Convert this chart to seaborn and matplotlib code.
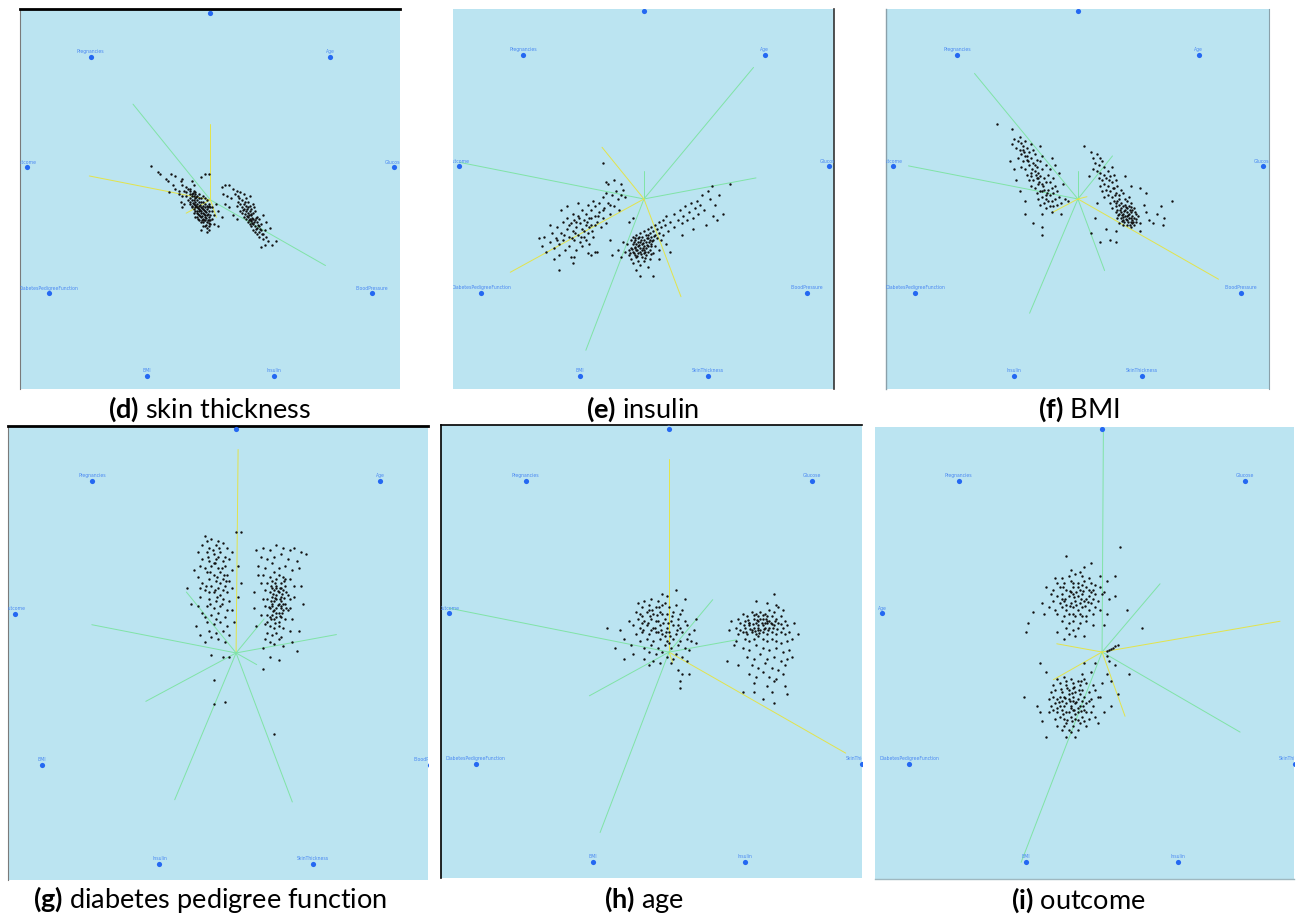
import matplotlib
matplotlib.use("Agg")
import matplotlib.pyplot as plt
import matplotlib.transforms as mtransforms
import numpy as np
import pandas as pd
import seaborn as sns

# anchor order, clockwise starting from the top (top anchor = variable studied)
anchors_d = ["SkinThickness", "Age", "Glucose", "BloodPressure", "Insulin", "BMI",
             "DiabetesPedigreeFunction", "Outcome", "Pregnancies"]
anchors_e = ["Insulin", "Age", "Glucose", "BloodPressure", "SkinThickness", "BMI",
             "DiabetesPedigreeFunction", "Outcome", "Pregnancies"]
anchors_f = ["BMI", "Age", "Glucose", "BloodPressure", "SkinThickness", "Insulin",
             "DiabetesPedigreeFunction", "Outcome", "Pregnancies"]
anchors_g = ["DiabetesPedigreeFunction", "Age", "Glucose", "BloodPressure", "SkinThickness",
             "Insulin", "BMI", "Outcome", "Pregnancies"]
anchors_h = ["Age", "Glucose", "BloodPressure", "SkinThickness", "Insulin", "BMI",
             "DiabetesPedigreeFunction", "Outcome", "Pregnancies"]
anchors_i = ["Outcome", "Glucose", "BloodPressure", "SkinThickness", "Insulin", "BMI",
             "DiabetesPedigreeFunction", "Age", "Pregnancies"]

# projected records (anchor circle radius = 100)
points_d = [
    (-32, 18), (-28, 15), (-27, 14), (-24, 11), (-23, 10), (-21, 14), (-19, 13), (-16, 10), (-15, 11),
    (-20, 8), (-19, 6), (-17, 5), (-15, 8), (-13, 7), (-11, 6), (-10, 10), (-5, 12), (-3, 14), (-1, 14),
    (-9, 8), (-22, 4), (-17, 3), (-15, 2),
    (-14, 5), (-13, 4), (-12, 6), (-11, 5), (-11, 3), (-10, 3), (-9, 5), (-8, 4), (-13, 2), (-11, 1),
    (-10, 2), (-9, 2), (-8, 3), (-7, 2), (-6, 3), (-12, 0), (-11, -1), (-10, 0), (-9, 0), (-8, 1),
    (-7, 0), (-6, 1), (-5, 1), (-4, 2), (-3, 1), (-11, -2), (-10, -3), (-9, -2), (-8, -1), (-7, -2),
    (-6, -1), (-5, -1), (-4, -1), (-3, -2), (-2, 0), (-10, -4), (-9, -5), (-8, -4), (-7, -4), (-6, -3),
    (-5, -4), (-4, -3), (-3, -4), (-2, -3), (-1, -2), (-9, -7), (-8, -6), (-7, -7), (-6, -6), (-5, -6),
    (-4, -7), (-3, -6), (-2, -5), (-1, -6), (0, -4), (-8, -9), (-7, -9), (-6, -8), (-5, -9), (-4, -10),
    (-3, -9), (-2, -8), (-1, -9), (0, -8), (1, -6), (-6, -11), (-5, -12), (-4, -12), (-3, -11), (-2, -12),
    (-1, -11), (0, -11), (1, -10), (-4, -14), (-3, -14), (-2, -15), (-1, -14), (0, -13), (-1, -16),
    (2, -13), (-14, -2), (-15, -4), (-16, -1), (1, -4), (2, -8), (3, -2), (4, -6), (-2, -17), (-5, -16),
    (4, -14), (6, -9),
    (-6.5, -4.5), (-5.5, -5.5), (-4.5, -4.5), (-3.5, -5.5), (-6.5, -7.5), (-5.5, -8.5), (-4.5, -8.5),
    (-3.5, -7.5), (-2.5, -6.5), (-2.5, -9.5), (-1.5, -10.5), (-3.5, -10.5), (-4.5, -11), (-7.5, -3),
    (-8.5, -2.5), (-9.5, -1.5), (-5.5, -2.5), (-1.5, -7.5), (-0.5, -12.5), (-2.5, -13.5), (-7.5, 1.5),
    (-9.5, 3.5), (-6.5, -10), (-0.5, -3.5), (-1.5, -4), (-4, -5), (-6, -5), (-7, -6), (-3, -8), (-5, -7),
    (6, 7), (8, 8), (10, 8), (12, 6), (14, 5), (7, 3), (9, 2), (11, 1), (13, 3), (15, 2), (16, 4), (18, 3),
    (17, 0), (19, 1), (20, -1), (21, 2), (15, -1), (14, -3), (16, -2), (17, -4), (18, -2), (19, -3),
    (20, -4), (21, -3), (22, -5), (23, -2), (16, -6), (17, -7), (18, -5), (19, -6), (20, -7), (21, -6),
    (22, -8), (23, -7), (24, -6), (25, -9), (18, -9), (19, -10), (20, -9), (21, -10), (22, -11), (23, -10),
    (24, -11), (25, -12), (26, -10), (20, -12), (21, -13), (22, -14), (23, -13), (24, -14), (25, -15),
    (26, -14), (27, -13), (23, -16), (24, -17), (25, -18), (26, -17), (27, -16), (28, -18), (29, -16),
    (26, -20), (28, -21), (30, -20), (31, -22), (29, -24), (33, -24), (8, -2), (10, -4), (12, -8),
    (30, -12), (32, -15), (28, -8), (14, -10), (27, -25), (35, -22),
    (19.5, -5), (20.5, -8), (21.5, -7.5), (22.5, -9.5), (23.5, -12), (24.5, -9.5), (22.5, -12.5),
    (21.5, -11.5), (20.5, -10.5), (18.5, -7.5), (17.5, -5.5), (19.5, -8.5), (25.5, -13.5), (26.5, -15.5),
    (27.5, -18), (23.5, -4), (24.5, -15.5), (18.5, -1), (15.5, 1),
]
points_e = [
    (-56, -21), (-54, -25), (-52, -28), (-53, -20), (-50, -23), (-49, -18), (-48, -26), (-47, -21),
    (-46, -15), (-45, -24), (-45, -30), (-44, -18), (-43, -12), (-43, -22), (-42, -27), (-41, -16),
    (-41, -10), (-40, -20), (-40, -25), (-39, -13), (-39, -31), (-38, -17), (-38, -8), (-37, -22),
    (-37, -11), (-36, -15), (-36, -27), (-35, -9), (-35, -19), (-34, -13), (-34, -23), (-33, -6),
    (-33, -16), (-32, -11), (-32, -20), (-31, -8), (-31, -14), (-30, -3), (-30, -18), (-29, -10),
    (-29, -24), (-28, -6), (-28, -14), (-27, -1), (-27, -20), (-26, -9), (-26, -4), (-25, -12),
    (-25, -28), (-24, -2), (-24, -7), (-23, -15), (-22, 1), (-22, -10), (-21, -5), (-20, 3), (-20, -13),
    (-19, -2), (-18, -8), (-17, 2), (-17, -30), (-16, -4), (-15, 4), (-14, 0), (-13, -6), (-12, 2),
    (-11, 5), (-10, 1), (-22, 19), (-20, 9), (-19, 8), (-45, -38), (-37, -31), (-26, -28), (-18, -22),
    (-14, -27), (-50, -14), (-44, -6), (-41, -4), (-35, -2), (-30, -29), (-33, -25), (-8, -12), (-6, -10),
    (-28, -30), (-38, -34), (-48, -32), (-16, 10), (-12, 8),
    (-36.5, -18), (-33.5, -20), (-30.5, -12), (-27.5, -17), (-24.5, -9), (-38.5, -21), (-42.5, -19),
    (-34.5, -10), (-29, -15), (-32, -17), (-40, -14), (-26, -14), (-22, -6), (-18, -3), (-36, -12),
    (-46, -22), (-28, -10), (-31, -22),
    (-9, -24), (-8, -27), (-8, -30), (-7, -22), (-7, -26), (-7, -32), (-6, -20), (-6, -24), (-6, -28),
    (-6, -34), (-5, -22), (-5, -26), (-5, -30), (-4, -19), (-4, -24), (-4, -27), (-4, -31), (-3, -21),
    (-3, -25), (-3, -29), (-3, -33), (-2, -18), (-2, -23), (-2, -26), (-2, -28), (-2, -35), (-1, -20),
    (-1, -24), (-1, -27), (-1, -31), (0, -17), (0, -22), (0, -25), (0, -29), (0, -33), (1, -19), (1, -23),
    (1, -26), (1, -30), (2, -16), (2, -21), (2, -25), (2, -28), (2, -36), (3, -18), (3, -22), (3, -27),
    (3, -32), (4, -15), (4, -20), (4, -24), (5, -17), (5, -22), (5, -29), (6, -14), (6, -19), (6, -25),
    (7, -16), (7, -21), (8, -12), (8, -18), (8, -27), (9, -15), (9, -22), (10, -11), (10, -19), (11, -14),
    (12, -24), (12, -9), (13, -17), (-10, -28), (-11, -23), (-12, -31), (-2, -41), (5, -41), (-4, -38),
    (8, -32), (14, -28),
    (-5.5, -23), (-4.5, -25.5), (-3.5, -27), (-2.5, -24.5), (-1.5, -22), (-0.5, -26), (0.5, -28),
    (1.5, -24.5), (2.5, -23), (3.5, -25), (-6.5, -26.5), (-5.5, -29), (-3.5, -30.5), (-1.5, -29.5),
    (0.5, -31.5), (-4.5, -21), (-2.5, -20.5), (1.5, -21), (4.5, -22.5), (-7.5, -28.5), (3.5, -29.5),
    (-0.5, -23.5), (5.5, -19.5), (-3, -23), (0, -27), (2, -19),
    (14, -12), (16, -8), (16, -15), (18, -11), (19, -6), (20, -13), (21, -9), (22, -4), (23, -11),
    (24, -7), (25, -2), (26, -10), (27, -5), (28, -1), (29, -8), (30, -3), (31, 2), (32, -6), (34, 4),
    (36, 7), (35, 0), (38, -3), (39, -11), (37, -9), (26, -16), (20, -19), (33, -14), (42, -8), (46, 8),
    (40, 2),
]
points_f = [
    (-43, 40), (-35, 37), (-34, 32), (-35, 29), (-32, 31), (-31, 33), (-30, 30), (-33, 27), (-31, 26),
    (-29, 28), (-28, 31), (-27, 27), (-30, 24), (-28, 23), (-26, 25), (-25, 29), (-24, 26), (-32, 22),
    (-29, 20), (-27, 21), (-25, 22), (-23, 24), (-22, 21), (-30, 17), (-28, 16), (-26, 18), (-24, 19),
    (-22, 17), (-20, 20), (-19, 23), (-27, 13), (-25, 14), (-23, 15), (-21, 14), (-19, 16), (-17, 18),
    (-26, 10), (-24, 10), (-22, 11), (-20, 12), (-18, 11), (-16, 13), (-15, 16), (-25, 7), (-23, 6),
    (-21, 8), (-19, 8), (-17, 9), (-15, 9), (-13, 11), (-22, 3), (-20, 4), (-18, 5), (-16, 5), (-14, 6),
    (-12, 7), (-21, 0), (-19, 1), (-17, 2), (-15, 2), (-13, 3), (-11, 4), (-20, -3), (-18, -2), (-16, -1),
    (-14, -1), (-12, 0), (-10, 1), (-17, -5), (-15, -4), (-13, -4), (-11, -3), (-9, -2), (-14, -7),
    (-9, -8), (-19, -8), (-24, -13), (-19, -19), (-19, -15), (-28, -8), (-33, 10), (-34, 16), (-31, 4),
    (-36, 20), (-28, -1), (-12, 18), (-10, 14), (-8, 8), (-14, 22), (-20, 28), (-7, 0), (-5, -1),
    (-26.5, 20), (-24.5, 16), (-22.5, 13), (-20.5, 9), (-18.5, 7), (-16.5, 3), (-28.5, 25), (-23, 18),
    (-21, 11), (-19, 4), (-17, 0), (-25, 12), (-29, 26), (-27, 23),
    (7, 25), (8, 22), (10, 24), (12, 22), (9, 19), (11, 18), (13, 20), (14, 17), (8, 16), (10, 15), (12, 14),
    (14, 13), (16, 15), (18, 17), (6, 12), (11, 11), (13, 10), (15, 11), (17, 12), (19, 13), (12, 7),
    (14, 8), (16, 7), (18, 9), (20, 10), (13, 4), (15, 5), (17, 4), (19, 6), (21, 7), (23, 5), (14, 1),
    (16, 2), (18, 1), (20, 3), (22, 2), (24, 3), (17, -2), (19, -1), (21, -1), (22, 0), (23, -2), (25, 0),
    (26, -1), (27, 1), (18, -5), (20, -4), (22, -3), (23, -5), (24, -4), (25, -3), (26, -5), (27, -4),
    (28, -2), (29, -6), (20, -7), (21, -6), (22, -8), (23, -7), (24, -8), (25, -6), (26, -7), (27, -8),
    (28, -7), (29, -9), (30, -5), (31, -8), (21, -10), (23, -10), (24, -11), (25, -9), (26, -11),
    (27, -10), (28, -12), (29, -11), (30, -10), (31, -12), (32, -9), (22, -13), (24, -14), (26, -14),
    (28, -15), (30, -14), (33, -13), (20, -17), (17, -22), (12, -23), (20, -23), (35, -3), (36, -7),
    (38, -11), (40, -13), (42, -8), (45, -14), (46, -10), (50, -1), (44, -4), (36, 3), (33, 6), (10, -2),
    (9, -10), (7, -18), (25, 12), (28, 7), (33, -17), (15, -16), (3, 28),
    (22.5, -6), (23.5, -8.5), (24.5, -6.5), (25.5, -10.5), (26.5, -8.5), (27.5, -6), (28.5, -10),
    (29.5, -12.5), (24.5, -12.5), (26.5, -12.5), (27.5, -14), (30.5, -7), (25.5, -4.5), (28.5, -4.5),
    (23.5, -11.5), (21.5, -8.5), (29, -13), (31, -10.5), (26, -9), (24, -9.5), (20.5, -2), (19.5, 2),
    (18.5, 6), (16.5, 10),
]
points_g = [
    (-14, 52), (-11, 51), (-8, 50), (-6, 49), (-15, 48), (-12, 47), (-9, 48), (-4, 47), (-17, 45),
    (-13, 45), (-10, 44), (-7, 45), (-5, 43), (-15, 42), (-12, 41), (-9, 42), (-6, 41), (-3, 42),
    (-16, 39), (-14, 38), (-11, 39), (-8, 38), (-5, 39), (-13, 36), (-10, 35), (-7, 36), (-4, 35),
    (-2, 37), (-17, 34), (-12, 33), (-9, 32), (-6, 33), (-3, 32), (-15, 31), (-11, 30), (-8, 29),
    (-5, 30), (-2, 29), (-14, 28), (-10, 27), (-7, 26), (-4, 27), (-16, 25), (-12, 24), (-9, 23),
    (-6, 24), (-3, 23), (-13, 21), (-10, 20), (-7, 21), (-4, 19), (-15, 18), (-11, 17), (-8, 18),
    (-5, 16), (-13, 14), (-10, 13), (-7, 14), (-4, 12), (-12, 10), (-9, 9), (-6, 10), (-11, 7), (-8, 6),
    (-5, 5), (-18, 12), (-17, 21), (-20, 22), (-22, 29), (-19, 37), (-16, 29), (-2, 19), (-1, 14),
    (1, 39), (2, 31), (1, 25), (2, 54), (0, 54), (-11, -1), (-6, -2), (-3, -2), (-10, -12), (-10, -23),
    (-5, -22), (17, -36), (-14, 16), (-9, 15), (-12, 27), (-7, 31), (-10, 40), (-13, 50), (-8, 43),
    (-6, 28), (-3, 8), (-14, 5), (-16, 8), (-2, 45),
    (-10.5, 46), (-7.5, 47), (-12.5, 43), (-9.5, 40), (-6.5, 38), (-11.5, 36), (-8.5, 34), (-5.5, 35),
    (-13.5, 30), (-9.5, 28), (-6.5, 22), (-11.5, 22), (-8.5, 25), (-4.5, 32),
    (9, 46), (12, 47), (15, 46), (18, 48), (21, 47), (24, 46), (26, 47), (29, 45), (31, 44), (11, 43),
    (14, 42), (17, 43), (20, 44), (23, 42), (27, 41), (10, 39), (13, 38), (16, 40), (19, 38), (22, 39),
    (25, 37), (28, 38), (12, 35), (15, 34), (17, 36), (19, 35), (21, 34), (24, 33), (11, 31), (14, 31),
    (16, 32), (18, 30), (20, 31), (22, 30), (26, 30), (13, 28), (15, 27), (17, 28), (18, 26), (19, 27),
    (20, 25), (21, 28), (23, 26), (12, 24), (14, 24), (16, 25), (17, 23), (18, 24), (19, 22), (20, 23),
    (22, 22), (24, 24), (13, 21), (15, 20), (16, 21), (17, 19), (18, 20), (19, 18), (20, 20), (21, 19),
    (23, 19), (14, 17), (15, 16), (16, 17), (17, 15), (18, 16), (19, 14), (20, 16), (22, 15), (13, 13),
    (15, 12), (17, 11), (19, 12), (21, 11), (14, 9), (16, 8), (18, 9), (20, 7), (15, 5), (17, 4), (19, 6),
    (12, 2), (15, -2), (19, -3), (12, -7), (27, 1), (25, 5), (28, 10), (30, 22), (29, 30), (8, 27),
    (8, 20), (9, 12), (25, 15), (24, 20), (26, 25), (10, 35), (24, 10), (13, 6), (21, 3), (11, 17),
    (22, 33), (18, 33), (16, 29), (20, 29), (14, 14), (21, 22),
    (15.5, 30), (17.5, 31), (19.5, 29), (21.5, 32), (16.5, 26.5), (18.5, 27.5), (20.5, 26.5), (22.5, 27),
    (15.5, 23), (17.5, 24.5), (19.5, 24), (21.5, 24.5), (14.5, 20.5), (16.5, 18.5), (18.5, 21.5),
    (20.5, 18), (22.5, 20), (15.5, 15), (17.5, 13.5), (19.5, 16.5), (18, 29), (16, 22), (20, 21), (18, 18),
]
points_h = [
    (-14, 22), (-11, 23), (-8, 24), (-5, 23), (-2, 22), (-12, 20), (-9, 21), (-6, 20), (-3, 21), (0, 20),
    (3, 21), (-15, 18), (-13, 17), (-10, 18), (-7, 17), (-4, 18), (-1, 17), (2, 18), (5, 17), (-14, 15),
    (-11, 14), (-8, 15), (-5, 14), (-2, 15), (1, 14), (4, 15), (7, 14), (-16, 12), (-13, 11), (-10, 12),
    (-7, 11), (-4, 12), (-1, 11), (2, 12), (5, 11), (8, 12), (-15, 8), (-12, 9), (-9, 8), (-6, 9),
    (-3, 8), (0, 9), (3, 8), (6, 9), (9, 8), (-13, 5), (-10, 6), (-7, 5), (-4, 6), (-1, 5), (2, 6), (5, 5),
    (8, 6), (10, 5), (-11, 2), (-8, 3), (-5, 2), (-2, 3), (1, 2), (4, 3), (7, 2), (9, 1), (-9, 0), (-6, -1),
    (-3, 0), (3, -1), (6, -2), (8, -4), (-20, 6), (-24, 2), (-28, 11), (-20, -3), (-16, -1), (-11, -3),
    (-9, -6), (1, -5), (4, -8), (6, -10), (9, -10), (5, -16), (3, 28), (-3, 26), (-1, 25), (7, 24),
    (12, 15), (11, 10), (12, 4), (-18, 14), (-22, 10), (-17, 3), (-7, -4), (-4, -5), (2, -3), (5, -13),
    (-12, 13), (-3, 17), (0, 4), (-6, 14), (-9, 19), (6, 19), (-2, 7), (-5, 9), (4, 12), (-1, -2),
    (-8.5, 16), (-5.5, 16.5), (-2.5, 13), (-9.5, 13), (-6.5, 11), (-3.5, 10), (-0.5, 13), (-11.5, 10),
    (-7.5, 19), (-4.5, 20), (1.5, 16), (-1.5, 9), (3.5, 10), (-8, 10), (-12, 16), (0.5, 7),
    (31, 15), (33, 17), (35, 16), (37, 18), (39, 17), (41, 18), (43, 17), (45, 19), (47, 18), (49, 20),
    (51, 19), (32, 13), (34, 14), (36, 13), (38, 15), (40, 14), (42, 15), (44, 14), (46, 16), (48, 15),
    (50, 16), (52, 14), (30, 11), (32, 10), (34, 11), (36, 12), (38, 11), (40, 12), (41, 10), (42, 12),
    (43, 11), (44, 13), (45, 11), (47, 12), (49, 13), (51, 11), (53, 12), (31, 8), (33, 9), (35, 8),
    (37, 9), (39, 8), (40, 10), (42, 9), (44, 8), (46, 9), (48, 8), (50, 9), (52, 8), (54, 9), (34, 6),
    (36, 5), (38, 6), (40, 7), (42, 6), (44, 5), (46, 6), (48, 5), (50, 4), (53, 5), (36, 13), (39, 13),
    (41, 15), (43, 13), (37, 10), (45, 14), (40, 16),
    (33.5, 12), (35.5, 14.5), (37.5, 12.5), (39.5, 14.5), (41.5, 13), (43.5, 15), (45.5, 13), (47.5, 14),
    (38.5, 9.5), (40.5, 8.5), (42.5, 10.5), (44.5, 10), (46.5, 11), (36.5, 10.5), (34.5, 9), (48.5, 10.5),
    (42, 16.5), (38, 16.5), (44, 16), (40, 11), (46, 12.5), (50, 12.5),
    (33, 2), (36, 1), (39, 3), (42, 2), (45, 1), (48, 2), (51, 0), (54, 1), (35, -2), (38, -3), (41, -1),
    (44, -3), (47, -2), (50, -4), (53, -3), (37, -6), (40, -7), (43, -5), (46, -7), (49, -8), (52, -6),
    (36, -10), (39, -11), (42, -9), (45, -11), (48, -12), (51, -10), (38, -14), (44, -15), (47, -13),
    (52, -15), (53, -19), (46, -18), (38, -18), (33, -18), (47, -23), (42, -21),
    (28, 14), (27, 10), (26, -4), (29, 3), (31, -6), (47, 26), (39, 23), (48, 21), (44, 22), (58, 8),
    (56, 13), (55, 6), (55, -2), (30, 5),
]
points_i = [
    (-18, 33), (-15, 34), (-12, 35), (-9, 34), (-6, 33), (-20, 31), (-17, 31), (-14, 32), (-11, 31),
    (-8, 32), (-5, 31), (-3, 30), (-22, 28), (-19, 29), (-16, 28), (-13, 29), (-10, 28), (-7, 29),
    (-4, 28), (-1, 29), (-23, 26), (-20, 25), (-18, 26), (-15, 25), (-13, 26), (-11, 25), (-9, 26),
    (-6, 25), (-3, 26), (0, 26), (-22, 23), (-19, 22), (-17, 23), (-14, 22), (-12, 23), (-10, 22),
    (-8, 23), (-5, 22), (-2, 23), (-24, 20), (-21, 19), (-18, 20), (-16, 19), (-13, 20), (-11, 19),
    (-9, 20), (-6, 19), (-3, 20), (-20, 17), (-17, 16), (-15, 17), (-12, 16), (-10, 17), (-7, 16),
    (-4, 17), (-18, 14), (-15, 13), (-13, 14), (-10, 13), (-7, 14), (-16, 11), (-13, 10), (-11, 11),
    (-15, 8), (-12, 7), (-20, 9), (-17, 6), (-8, 7), (-27, 22), (-26, 17), (-31, 18), (-33, 13), (-34, 9),
    (-16, 43), (-5, 40), (-10, 36), (8, 47), (6, 34), (11, 19), (-1, 34), (2, 32), (1, 27), (3, 24),
    (-1, 19), (2, 17), (-25, 29), (-4, 12), (1, 12), (18, 11), (6, 25), (-8, 38), (-14, 37), (-21, 33),
    (-18, 24), (-14, 27), (-7, 24), (-11, 29), (-16, 21), (-4, 24), (-13, 17), (-9, 16), (-6, 28),
    (-14.5, 27.5), (-11.5, 27), (-8.5, 27.5), (-16.5, 24), (-12.5, 24.5), (-9.5, 24), (-6.5, 22.5),
    (-14.5, 20.5), (-11.5, 21), (-7.5, 20.5), (-13, 31), (-9, 30), (-5, 27), (-17.5, 29),
    (-20, -12), (-17, -11), (-14, -12), (-11, -13), (-8, -12), (-22, -15), (-19, -14), (-16, -15),
    (-13, -14), (-10, -15), (-7, -14), (-4, -15), (-23, -18), (-21, -17), (-18, -18), (-15, -17),
    (-12, -18), (-9, -17), (-6, -18), (-3, -17), (-24, -21), (-22, -20), (-20, -21), (-17, -20),
    (-15, -21), (-13, -20), (-11, -21), (-8, -20), (-5, -21), (-2, -20), (-23, -24), (-21, -23),
    (-19, -24), (-16, -23), (-14, -24), (-12, -23), (-10, -24), (-7, -23), (-4, -24), (-24, -27),
    (-22, -26), (-20, -27), (-18, -26), (-15, -27), (-13, -26), (-11, -27), (-8, -26), (-5, -27),
    (-21, -30), (-19, -29), (-17, -30), (-14, -29), (-12, -30), (-9, -29), (-6, -30), (-3, -29),
    (-20, -33), (-16, -32), (-13, -33), (-10, -32), (-7, -33), (-18, -35), (-14, -36), (-11, -35),
    (-12, -38), (-16, -38), (-25, -38), (-28, -27), (-29, -24), (-27, -31), (-35, -20), (-28, -5),
    (-25, -9), (-1, -20), (0, -14), (2, -10), (4, -24), (7, -19), (12, -10), (-2, -32), (1, -27),
    (-15, -19), (-17, -24), (-13, -22), (-11, -25), (-16, -27), (-14, -25), (-9, -22), (-18, -22),
    (-12, -28), (-10, -19), (-19, -20), (-7, -27), (-13, -16), (-16, -13), (-9, -10), (-5, -9), (-3, -5),
    (-8, -5), (2, -2), (3, -4), (6, -6), (4, -13),
    (-18.5, -16.5), (-15.5, -16), (-12.5, -15.5), (-9.5, -13), (-19.5, -22.5), (-16.5, -20.5),
    (-13.5, -18.5), (-10.5, -17), (-17.5, -28), (-14.5, -22), (-11.5, -22.5), (-8.5, -24), (-15.5, -30.5),
    (-12.5, -26), (-9.5, -26.5), (-13.5, -31), (-11, -30.5), (-15, -35), (-8, -31), (-20, -25), (-6, -22),
    (-17, -33),
    (2, 0.5), (3, 1), (4, 1.5), (5, 2), (6, 2.5), (7, 3),
]

# spokes drawn from the centre: (u, v, colour)
lines_d = [(-41.5, 51.2, "g"), (61.7, -35.1, "g"), (0, 40.6, "y"), (-64.9, 12.8, "y"),
           (3.2, -9.3, "y"), (-13, -7.1, "y")]
lines_e = [(58.3, 70, "g"), (-98.2, 19.5, "g"), (59.6, 11.2, "g"), (-30.9, -80.5, "g"), (0, 14.7, "g"),
           (-22.3, 27.5, "y"), (19.7, -52, "y"), (-71.1, -39, "y")]
lines_f = [(-55, 66.8, "g"), (-90.1, 17.6, "g"), (-25.7, -60.8, "g"), (14.2, -38.1, "g"), (0, 14.9, "g"),
           (18.4, 22.9, "g"), (74.8, -42.7, "y"), (-13.8, -7.3, "y"), (4.8, 1.2, "y")]
lines_g = [(0.9, 90.8, "y"), (-64.4, 12.6, "g"), (-22.2, 27.2, "g"), (44.8, 8.2, "g"), (12.5, 15.2, "g"),
           (-40.3, -21.6, "g"), (-27.4, -65.5, "g"), (25.1, -66.5, "g"), (9.2, -5.2, "g")]
lines_h = [(0, 86.5, "y"), (79.2, -45.3, "y"), (1.6, -4.6, "y"), (-98.7, 19.7, "g"), (19.6, 23.5, "g"),
           (-35.7, -19.6, "g"), (-30.9, -80.9, "g"), (30.3, 5.5, "g")]
lines_i = [(0.6, 100.1, "g"), (26, 30.6, "g"), (61.9, -35.9, "g"), (-36.3, -94.3, "g"), (79.8, 13.8, "y"),
           (-20.3, 3.7, "y"), (-21.8, -12.4, "y"), (10.3, -28.8, "y")]

captions = [("(d)", "skin thickness"), ("(e)", "insulin"), ("(f)", "BMI"),
            ("(g)", "diabetes pedigree function"), ("(h)", "age"), ("(i)", "outcome")]

BG = "#bbe4f1"
SPOKE = {"g": "#80e3a6", "y": "#e3e34a"}
ANCHOR = "#2468f2"
LABEL = "#4a88f2"

panels = [
    (anchors_d, points_d, lines_d, [0.0154, 0.5749, 0.2932, 0.4153], (-102.1, 101.6), (-101.1, 102.1)),
    (anchors_e, points_e, lines_e, [0.3495, 0.5749, 0.2940, 0.4153], (-101.6, 101.1), (-101.1, 101.1)),
    (anchors_f, points_f, lines_f, [0.6836, 0.5749, 0.2955, 0.4153], (-102.1, 101.6), (-101.1, 101.1)),
    (anchors_g, points_g, lines_g, [0.0062, 0.0383, 0.3241, 0.4962], (-101.8, 85.7), (-101.3, 101.3)),
    (anchors_h, points_h, lines_h, [0.3403, 0.0404, 0.3248, 0.4951], (-102.2, 86.5), (-101.3, 101.8)),
    (anchors_i, points_i, lines_i, [0.6752, 0.0393, 0.3233, 0.4940], (-101.8, 86.1), (-101.8, 100.9)),
]

# visible frame edges of each screenshot crop
edges = [
    {"top": ("black", 2.0), "left": ("#7a7a7a", 0.8)},
    {"right": ("#333333", 1.2)},
    {"left": ("#8aa0aa", 1.0), "right": ("#8aa0aa", 0.8)},
    {"top": ("black", 2.0), "left": ("#7a7a7a", 0.8)},
    {"top": ("black", 1.2), "left": ("black", 1.2)},
    {"bottom": ("#9fb8c0", 1.0)},
]
caption_pos = [(0.162, 0.553), (0.496, 0.553), (0.832, 0.553),
               (0.162, 0.0164), (0.497, 0.0164), (0.832, 0.0164)]

sns.set_style("white")
plt.rcParams["font.family"] = ["Lato", "DejaVu Sans"]
plt.rcParams["mathtext.fontset"] = "custom"
plt.rcParams["mathtext.rm"] = "Lato"
plt.rcParams["mathtext.bf"] = "Lato:bold"

fig = plt.figure(figsize=(12.96, 9.15), dpi=100)

for k, (anchors, pts, spokes, rect, xl, yl) in enumerate(panels):
    ax = fig.add_axes(rect)
    ax.set_facecolor(BG)

    ang = np.deg2rad(90 - 40 * np.arange(len(anchors)))
    anc = pd.DataFrame({"u": 100 * np.cos(ang), "v": 100 * np.sin(ang), "name": anchors})

    for u, v, c in spokes:
        ax.plot([0, u], [0, v], color=SPOKE[c], lw=0.7, zorder=1)

    df = pd.DataFrame(pts, columns=["u", "v"])
    sns.scatterplot(data=df, x="u", y="v", ax=ax, color="#111111", s=3,
                    linewidth=0, zorder=2)
    sns.scatterplot(data=anc, x="u", y="v", ax=ax, color=ANCHOR, s=14,
                    linewidth=0, zorder=3)

    off = mtransforms.offset_copy(ax.transData, fig=fig, y=2.0, units="points")
    for _, r in anc.iterrows():
        ax.text(r["u"], r["v"], r["name"], transform=off, ha="center", va="bottom",
                fontsize=3.3, color=LABEL, family="DejaVu Sans", clip_on=True)

    ax.set_xlim(*xl)
    ax.set_ylim(*yl)
    ax.set_xticks([])
    ax.set_yticks([])
    ax.set_xlabel("")
    ax.set_ylabel("")
    for side, sp in ax.spines.items():
        if side in edges[k]:
            col, lw = edges[k][side]
            sp.set_color(col)
            sp.set_linewidth(lw)
            sp.set_visible(True)
        else:
            sp.set_visible(False)

    tag, txt = captions[k]
    cx, cy = caption_pos[k]
    fig.text(cx, cy, r"$\mathbf{" + tag + "}$ " + txt, ha="center", va="center",
             fontsize=19.5, color="black")

fig.savefig("out.png", dpi=100, facecolor="white")
